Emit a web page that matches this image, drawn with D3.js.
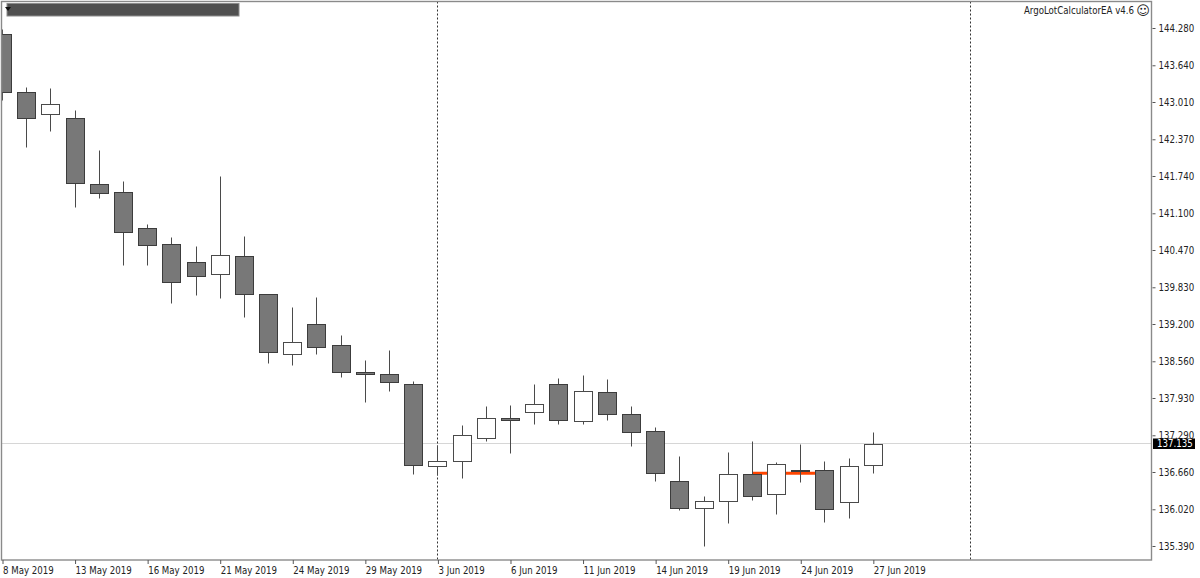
<!DOCTYPE html>
<html>
<head>
<meta charset="utf-8">
<title>Daily candlesticks</title>
<script src="https://cdn.jsdelivr.net/npm/d3@7/dist/d3.min.js"></script>
<style>
  html, body { margin: 0; padding: 0; background: #fff; overflow: hidden; }
  svg { display: block; }
  text { font-family: "DejaVu Sans Condensed", "DejaVu Sans", sans-serif; font-size: 9.6px; fill: #222; }
</style>
</head>
<body>
<svg id="chart" width="1200" height="578"></svg>
<script>
// Daily OHLC bars, oldest first
const opens  = [144.18,143.18,142.80,142.74,141.60,141.47,140.84,140.58,140.26,140.06,140.36,139.72,138.69,139.20,138.84,138.38,138.34,138.17,136.76,136.85,137.24,137.58,137.69,138.17,137.54,138.03,137.66,137.36,136.50,136.04,136.17,136.63,136.29,136.69,136.70,136.15,136.78];
const highs  = [144.26,143.27,143.25,142.87,142.19,141.65,140.92,140.69,140.54,141.74,140.71,139.72,139.49,139.66,139.01,138.58,138.75,138.22,137.12,137.47,137.79,137.81,138.17,138.27,138.33,138.26,137.79,137.43,136.94,136.25,137.00,137.19,136.84,137.14,136.85,136.90,137.35];
const lows   = [143.04,142.24,142.51,141.21,141.36,140.21,140.21,139.56,139.70,139.65,139.32,138.53,138.50,138.69,138.29,137.86,138.05,136.63,136.61,136.56,137.19,136.99,137.48,137.48,137.48,137.55,137.11,136.51,136.01,135.39,135.79,136.18,135.94,136.49,135.80,135.87,136.64];
const closes = [143.18,142.74,142.97,141.62,141.45,140.78,140.56,139.92,140.02,140.38,139.72,138.72,138.89,138.81,138.38,138.35,138.21,136.78,136.85,137.29,137.59,137.56,137.82,137.55,138.05,137.66,137.35,136.64,136.05,136.17,136.63,136.25,136.80,136.68,136.03,136.77,137.135];

// Price axis
const priceTicks = [144.28,143.64,143.01,142.37,141.74,141.10,140.47,139.83,139.20,138.56,137.93,137.29,136.66,136.02,135.39];
const lastPrice = 137.135;

// Time axis: a label every third bar
const dateBars = [0,3,6,9,12,15,18,21,24,27,30,33,36];
const dateLabels = ["8 May 2019","13 May 2019","16 May 2019","21 May 2019","24 May 2019","29 May 2019","3 Jun 2019","6 Jun 2019","11 Jun 2019","14 Jun 2019","19 Jun 2019","24 Jun 2019","27 Jun 2019"];

// Period separators, given as bar positions
const separatorBars = [18, 40];

// Horizontal level drawn behind the candles: [price, first bar, last bar]
const levelPrice = 136.64;
const levelBars = [31, 34];

const plot = { left: 1.5, top: 1.5, right: 1151.5, bottom: 560 };
const bodyHalf = 9;

const svg = d3.select("#chart");
const x = d3.scaleLinear().domain([0, 40]).range([2.5, 970.1]);
const y = d3.scaleLinear().domain([144.28, 135.39]).range([28, 546]);
const px = v => Math.floor(x(v)) + 0.5;
const py = v => Math.round(y(v)) + 0.5;

svg.append("defs").append("clipPath").attr("id", "plot-area")
  .append("rect")
  .attr("x", plot.left).attr("y", plot.top)
  .attr("width", plot.right - plot.left).attr("height", plot.bottom - plot.top);

const area = svg.append("g").attr("clip-path", "url(#plot-area)");

// Last price line
area.append("line")
  .attr("x1", plot.left).attr("x2", plot.right)
  .attr("y1", py(lastPrice) - 1).attr("y2", py(lastPrice) - 1)
  .attr("stroke", "#d6d6d6").attr("stroke-width", 1);

// Period separators
area.selectAll(".separator").data(separatorBars).join("line")
  .attr("class", "separator")
  .attr("x1", d => px(d)).attr("x2", d => px(d))
  .attr("y1", plot.top).attr("y2", plot.bottom)
  .attr("stroke", "#333").attr("stroke-dasharray", "2,2");

// Orange level
area.append("line")
  .attr("x1", x(levelBars[0])).attr("x2", x(levelBars[1]))
  .attr("y1", y(levelPrice)).attr("y2", y(levelPrice))
  .attr("stroke", "#ff4500").attr("stroke-width", 3);

// Candles
const candles = area.selectAll(".candle").data(d3.range(opens.length)).join("g")
  .attr("class", "candle");

candles.append("line")
  .attr("x1", i => px(i)).attr("x2", i => px(i))
  .attr("y1", i => py(highs[i])).attr("y2", i => py(lows[i]))
  .attr("stroke", "#4a4a4a");

candles.append("rect")
  .attr("x", i => px(i) - bodyHalf)
  .attr("width", bodyHalf * 2)
  .attr("y", i => py(Math.max(opens[i], closes[i])))
  .attr("height", i => Math.max(1, py(Math.min(opens[i], closes[i])) - py(Math.max(opens[i], closes[i]))))
  .attr("fill", i => closes[i] >= opens[i] ? "#ffffff" : "#787878")
  .attr("stroke", i => closes[i] >= opens[i] ? "#4a4a4a" : "#3c3c3c")
  .attr("stroke-width", 1);

// Plot frame
svg.append("rect")
  .attr("x", plot.left).attr("y", plot.top)
  .attr("width", plot.right - plot.left).attr("height", plot.bottom - plot.top)
  .attr("fill", "none").attr("stroke", "#8a8a8a").attr("stroke-width", 1.4);

// Price axis
const priceAxis = d3.axisRight(y)
  .tickValues(priceTicks)
  .tickSize(3).tickPadding(3)
  .tickFormat(d3.format(".3f"));
const priceG = svg.append("g").attr("transform", `translate(${plot.right + 1},0)`).call(priceAxis);
priceG.select(".domain").remove();
priceG.selectAll("line").attr("stroke", "#555");
priceG.selectAll("text").attr("fill", "#222").style("font-size", null).attr("font-family", null).attr("font-size", null);

// Time axis
const timeAxis = d3.axisBottom(x)
  .tickValues(dateBars)
  .tickSize(4).tickPadding(3)
  .tickFormat(d => dateLabels[dateBars.indexOf(d)]);
const timeG = svg.append("g").attr("transform", `translate(0,${plot.bottom})`).call(timeAxis);
timeG.select(".domain").remove();
timeG.selectAll("line").attr("stroke", "#555");
timeG.selectAll("text").attr("text-anchor", "start").attr("fill", "#222").attr("font-family", null).attr("font-size", null);

// Current price tag
svg.append("rect")
  .attr("x", 1153).attr("y", py(lastPrice) - 6)
  .attr("width", 42).attr("height", 10.5)
  .attr("fill", "#000");
svg.append("text")
  .attr("x", 1157).attr("y", py(lastPrice) + 2.5)
  .style("fill", "#fff")
  .text(d3.format(".3f")(lastPrice));

// Symbol strip at top left
svg.append("rect")
  .attr("x", 7).attr("y", 3.5).attr("width", 232).attr("height", 12.5)
  .attr("fill", "#505050").attr("stroke", "#8c8c8c");
svg.append("path")
  .attr("d", d3.line()([[5, 7], [11, 7], [8, 11]]) + "Z")
  .attr("fill", "#111");

// Expert advisor caption
svg.append("text")
  .attr("x", 1134).attr("y", 13.5).attr("text-anchor", "end")
  .text("ArgoLotCalculatorEA v4.6");
svg.append("text")
  .attr("x", 1143).attr("y", 14.5).attr("text-anchor", "middle")
  .style("font-family", "'DejaVu Sans'").style("font-size", "13px")
  .text("☺");
</script>
</body>
</html>
